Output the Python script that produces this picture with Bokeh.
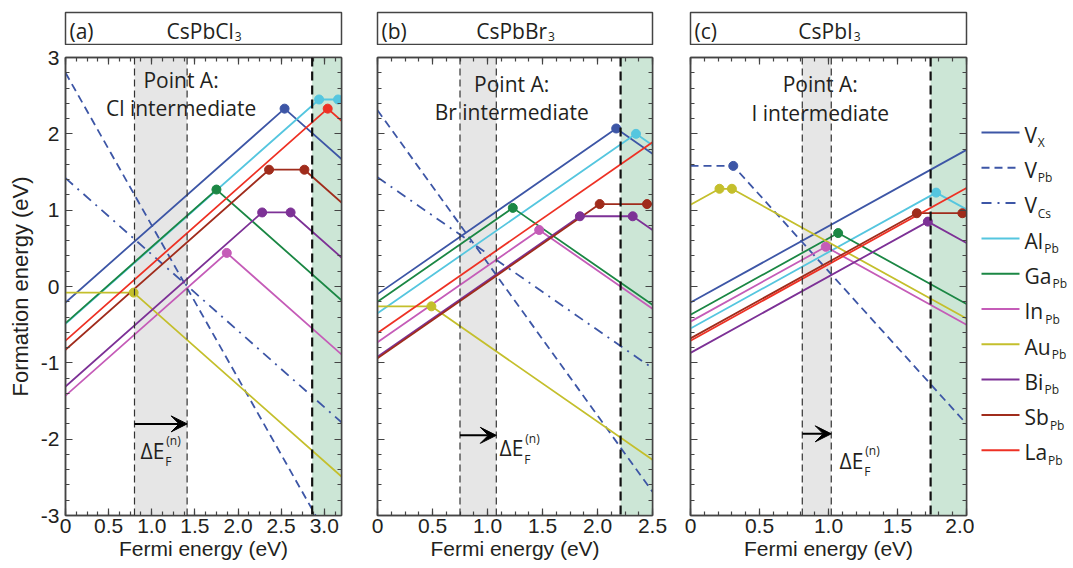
from bokeh.plotting import figure
from bokeh.models import (Range1d, LinearAxis, FixedTicker, BoxAnnotation, Span, Arrow,
                          VeeHead, CustomJSTickFormatter)
from bokeh.layouts import row, column
from bokeh.core.properties import value
from bokeh.embed import file_html
from bokeh.resources import INLINE

# ---------------- data ----------------
DEFECTS = ["VX", "VPb", "VCs", "Al", "Ga", "In", "Au", "Bi", "Sb", "La"]
legend_main = ["V", "V", "V", "Al", "Ga", "In", "Au", "Bi", "Sb", "La"]
legend_sub = ["X", "Pb", "Cs", "Pb", "Pb", "Pb", "Pb", "Pb", "Pb", "Pb"]

x_ticks_major = [0, 0.5, 1.0, 1.5, 2.0, 2.5, 3.0]
y_ticks_major = [-3, -2, -1, 0, 1, 2, 3]

# (a) CsPbCl3
cl_ef = {"VX": [0, 2.54, 3.2], "VPb": [0, 3.2], "VCs": [0, 3.2], "Al": [0, 2.94, 3.2],
         "Ga": [0, 1.75, 3.2], "In": [0, 1.87, 3.2], "Au": [0, 0.79, 3.2],
         "Bi": [0, 2.28, 2.61, 3.2], "Sb": [0, 2.36, 2.77, 3.2], "La": [0, 3.04, 3.2]}
cl_form = {"VX": [-0.21, 2.33, 1.67], "VPb": [2.80, -3.60], "VCs": [1.42, -1.78],
           "Al": [-0.49, 2.45, 2.45], "Ga": [-0.48, 1.27, -0.18], "In": [-1.43, 0.44, -0.89],
           "Au": [-0.08, -0.08, -2.49], "Bi": [-1.31, 0.97, 0.97, 0.38],
           "Sb": [-0.83, 1.53, 1.53, 1.10], "La": [-0.71, 2.33, 2.17]}
cl_dot_ef = {"VX": [2.54], "Al": [2.94, 3.16], "Ga": [1.75], "In": [1.87], "Au": [0.79],
             "Bi": [2.28, 2.61], "Sb": [2.36, 2.77], "La": [3.04]}
cl_dot_form = {"VX": [2.33], "Al": [2.45, 2.45], "Ga": [1.27], "In": [0.44], "Au": [-0.08],
               "Bi": [0.97, 0.97], "Sb": [1.53, 1.53], "La": [2.33]}
cl_window = [0.80, 1.41]
cl_gap = 2.86

# (b) CsPbBr3
br_ef = {"VX": [0, 2.17, 2.5], "VPb": [0, 2.5], "VCs": [0, 2.5], "Al": [0, 2.35, 2.5],
         "Ga": [0, 1.23, 2.5], "In": [0, 1.47, 2.5], "Au": [0, 0.49, 2.5],
         "Bi": [0, 1.84, 2.32, 2.5], "Sb": [0, 2.02, 2.5], "La": [0, 2.5]}
br_form = {"VX": [-0.10, 2.07, 1.74], "VPb": [2.31, -2.69], "VCs": [1.43, -1.07],
           "Al": [-0.35, 2.00, 1.85], "Ga": [-0.20, 1.03, -0.24], "In": [-0.73, 0.74, -0.29],
           "Au": [-0.26, -0.26, -2.27], "Bi": [-0.92, 0.92, 0.92, 0.74],
           "Sb": [-0.94, 1.08, 1.08], "La": [-0.61, 1.89]}
br_dot_ef = {"VX": [2.17], "Al": [2.35], "Ga": [1.23], "In": [1.47], "Au": [0.49],
             "Bi": [1.84, 2.32], "Sb": [2.02, 2.45]}
br_dot_form = {"VX": [2.07], "Al": [2.00], "Ga": [1.03], "In": [0.74], "Au": [-0.26],
               "Bi": [0.92, 0.92], "Sb": [1.08, 1.08]}
br_window = [0.75, 1.08]
br_gap = 2.21

# (c) CsPbI3
i_ef = {"VX": [0, 2.0], "VPb": [0, 0.31, 2.0], "Al": [0, 1.78, 2.0], "Ga": [0, 1.07, 2.0],
        "In": [0, 0.98, 2.0], "Au": [0, 0.21, 0.30, 2.0], "Bi": [0, 1.72, 2.0],
        "Sb": [0, 1.64, 2.0], "La": [0, 2.0]}
i_form = {"VX": [-0.21, 1.79], "VPb": [1.58, 1.58, -1.80], "Al": [-0.55, 1.23, 1.01],
          "Ga": [-0.37, 0.70, -0.23], "In": [-0.46, 0.52, -0.50],
          "Au": [1.07, 1.28, 1.28, -0.42], "Bi": [-0.87, 0.85, 0.57],
          "Sb": [-0.68, 0.96, 0.96], "La": [-0.71, 1.29]}
i_dot_ef = {"VPb": [0.31], "Al": [1.78], "Ga": [1.07], "In": [0.98], "Au": [0.21, 0.30],
            "Bi": [1.72], "Sb": [1.64, 1.97]}
i_dot_form = {"VPb": [1.58], "Al": [1.23], "Ga": [0.70], "In": [0.52], "Au": [1.28, 1.28],
              "Bi": [0.85], "Sb": [0.96, 0.96]}
i_window = [0.81, 1.02]
i_gap = 1.74

# ---------------- styles ----------------
COLORS = {"VX": "#3d56a6", "VPb": "#3d56a6", "VCs": "#3d56a6", "Al": "#55c6df",
          "Ga": "#1b8744", "In": "#c55cb8", "Au": "#c4bf2c", "Bi": "#7d3196",
          "Sb": "#a02c1c", "La": "#ee3124"}
DASH = {"VX": "solid", "VPb": "8 5", "VCs": "10 6 2 6"}
AX_FONT = "Liberation Sans"
ANN_FONT = "Open Sans"
TXT = "#231f20"
FRAME = "#444444"
BASE_FIX = 0.32   # baseline correction (em) for text glyphs

OS_W = {" ": 0.26, "(": 0.296, ")": 0.296, "a": 0.556, "b": 0.613, "c": 0.48, "e": 0.561,
        "i": 0.258, "l": 0.258, "n": 0.617, "r": 0.408, "s": 0.479, "u": 0.617,
        "A": 0.633, "B": 0.647, "C": 0.631, "E": 0.556, "G": 0.728, "I": 0.32,
        "L": 0.519, "P": 0.604, "S": 0.549, "V": 0.58, "Δ": 0.62, "3": 0.572}


def tw(s, px):
    return sum(OS_W.get(ch, 0.56) for ch in s) * px


def put_text(fig, x, y, s, size, align="left", dx=0, dy=0):
    fig.text(x=[x], y=[y], text=[s], x_offset=dx, y_offset=dy - BASE_FIX * size,
             text_font=value(ANN_FONT), text_font_size=f"{size}px", text_align=align,
             text_baseline="alphabetic", text_color=TXT)


FH = 458          # frame height
TH = 32           # title box height
BLANK = CustomJSTickFormatter(code="return '';")


def style_axis(ax, labels):
    ax.major_tick_in = 7
    ax.major_tick_out = 0
    ax.minor_tick_in = 4
    ax.minor_tick_out = 0
    ax.axis_line_color = FRAME
    ax.axis_line_width = 1.5
    ax.major_tick_line_color = FRAME
    ax.minor_tick_line_color = FRAME
    ax.major_tick_line_width = 1.2
    ax.minor_tick_line_width = 1.2
    if labels:
        ax.major_label_text_font = AX_FONT
        ax.major_label_text_font_size = "21px"
        ax.major_label_text_color = TXT
        ax.major_label_standoff = 3
        ax.axis_label_text_font = AX_FONT
        ax.axis_label_text_font_size = "21px"
        ax.axis_label_text_font_style = "normal"
        ax.axis_label_text_color = TXT
    else:
        ax.formatter = BLANK
        ax.major_label_text_font_size = "1px"
        ax.major_label_standoff = 0


def make_panel(tag, nm_main, nm_sub, ef, form, dot_ef, dot_form, xmax, minor_step,
               window, gap, arrow_y, pa_x, pa_y, line2, de_x, de_y, bl, fw, br, ylab):
    # title box
    t = figure(frame_width=fw, frame_height=TH, x_range=Range1d(0, fw), y_range=Range1d(0, TH),
               x_axis_type=None, y_axis_type=None, output_backend="svg", toolbar_location=None,
               min_border_left=bl, min_border_right=br, min_border_top=12, min_border_bottom=1)
    t.outline_line_color = FRAME
    t.outline_line_width = 1.5
    put_text(t, 4, 7, tag, 21)
    mw = tw(nm_main, 21)
    sw = tw(nm_sub, 12)
    split = fw / 2 + (mw - sw) / 2
    put_text(t, split, 7, nm_main, 21, align="right")
    put_text(t, split + 1, 3.8, nm_sub, 12)

    p = figure(frame_width=fw, frame_height=FH, x_range=Range1d(0, xmax), y_range=Range1d(-3, 3),
               output_backend="svg", toolbar_location=None, min_border_left=bl,
               min_border_right=br, min_border_top=12, min_border_bottom=52)
    p.xgrid.visible = False
    p.ygrid.visible = False
    p.outline_line_color = FRAME
    p.outline_line_width = 1.5
    p.background_fill_color = "white"

    nminor = int(round(xmax / minor_step)) + 1
    xminor = [round(k * minor_step, 4) for k in range(nminor)]
    xt = FixedTicker(ticks=[v for v in x_ticks_major if v <= xmax + 1e-9], minor_ticks=xminor)
    yt = FixedTicker(ticks=y_ticks_major, minor_ticks=[round(-3 + 0.2 * k, 2) for k in range(31)])
    xf = CustomJSTickFormatter(code="return tick == 0 ? '0' : tick.toFixed(1);")
    yf = CustomJSTickFormatter(code="return tick.toFixed(0);")

    p.xaxis.ticker = xt
    p.xaxis.formatter = xf
    p.yaxis.ticker = yt
    p.yaxis.formatter = yf
    for ax in p.xaxis:
        style_axis(ax, True)
        ax.axis_label = "Fermi energy (eV)"
        ax.axis_label_standoff = 1
    for ax in p.yaxis:
        style_axis(ax, ylab)
        if ylab:
            ax.axis_label = "Formation energy (eV)"
            ax.axis_label_text_font_size = "22px"
            ax.axis_label_standoff = 5
            ax.major_label_standoff = 6

    top = LinearAxis(ticker=xt)
    style_axis(top, False)
    p.add_layout(top, "above")
    right = LinearAxis(ticker=yt)
    style_axis(right, False)
    p.add_layout(right, "right")

    p.add_layout(BoxAnnotation(left=window[0], right=window[1], fill_color="#e6e6e6",
                               fill_alpha=1, line_color=None, level="underlay"))
    p.add_layout(BoxAnnotation(left=gap, fill_color="#cce6d6", fill_alpha=1,
                               line_color=None, level="underlay"))

    # annotation texts
    put_text(p, pa_x, pa_y, "Point A:", 21, align="center")
    put_text(p, pa_x, pa_y - 0.37, line2, 21, align="center")
    dw = tw("ΔE", 21)
    put_text(p, de_x, de_y, "ΔE", 21)
    put_text(p, de_x, de_y, "F", 12, dx=dw, dy=8)
    put_text(p, de_x, de_y, "(n)", 12, dx=dw + 1, dy=-13)

    for d in DEFECTS:
        if d in ef:
            p.line(ef[d], form[d], line_color=COLORS[d], line_width=1.8,
                   line_dash=DASH.get(d, "solid"))
    for d in DEFECTS:
        if d in dot_ef:
            p.scatter(dot_ef[d], dot_form[d], size=9, fill_color=COLORS[d],
                      line_color=COLORS[d])

    for loc in window:
        p.add_layout(Span(location=loc, dimension="height", line_color="#333333",
                          line_width=1.2, line_dash="7 4"))
    p.add_layout(Span(location=gap, dimension="height", line_color="#111111",
                      line_width=2.2, line_dash="9 5"))
    p.add_layout(Arrow(end=VeeHead(size=16, fill_color="black", line_color="black"),
                       x_start=window[0], y_start=arrow_y, x_end=window[1], y_end=arrow_y,
                       line_color="black", line_width=2))
    return column(t, p, spacing=0)


col_a = make_panel("(a)", "CsPbCl", "3", cl_ef, cl_form, cl_dot_ef, cl_dot_form, 3.2, 0.125,
                   cl_window, cl_gap, -1.80, 1.34, 2.62, "Cl intermediate", 0.87, -2.24,
                   65, 276, 18, True)
col_b = make_panel("(b)", "CsPbBr", "3", br_ef, br_form, br_dot_ef, br_dot_form, 2.5, 0.125,
                   br_window, br_gap, -1.95, 1.22, 2.57, "Br intermediate", 1.11, -2.21,
                   18, 275, 19, False)
col_c = make_panel("(c)", "CsPbI", "3", i_ef, i_form, i_dot_ef, i_dot_form, 2.0, 0.1,
                   i_window, i_gap, -1.93, 0.94, 2.56, "I intermediate", 1.08, -2.37,
                   19, 276, 8, False)

# legend
LW, LH = 98, 567
lg = figure(frame_width=LW, frame_height=LH, x_range=Range1d(0, LW), y_range=Range1d(LH, 0),
            x_axis_type=None, y_axis_type=None, output_backend="svg", toolbar_location=None,
            min_border=0)
lg.outline_line_color = None
for i, d in enumerate(DEFECTS):
    yy = 132 + 35.3 * i
    lg.line([7, 45], [yy, yy], line_color=COLORS[d], line_width=2,
            line_dash=DASH.get(d, "solid"))
    put_text(lg, 50, yy + 9, legend_main[i], 21)
    put_text(lg, 50, yy + 9, legend_sub[i], 12, dx=tw(legend_main[i], 21) + 1, dy=5)

layout = row(col_a, col_b, col_c, lg, spacing=0)
open("out.html", "w").write(file_html(layout, INLINE, title="Formation energies"))
